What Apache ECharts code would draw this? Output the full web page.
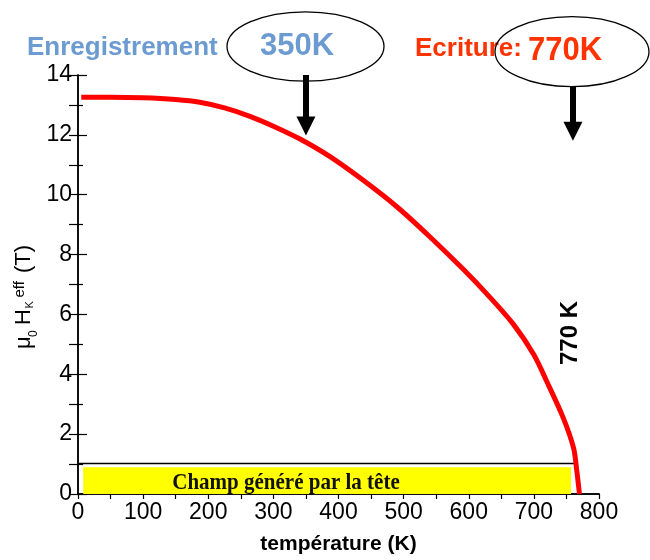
<!DOCTYPE html>
<html>
<head>
<meta charset="utf-8">
<script src="https://cdn.jsdelivr.net/npm/echarts@6/dist/echarts.min.js"></script>
<style>
html,body{margin:0;padding:0;background:#fff;}
#chart{width:650px;height:560px;}
</style>
</head>
<body>
<div id="chart"></div>
<script>
// ---- data ----
var temperatures = [5, 50, 100, 150, 187, 225, 264, 300, 341, 387, 438, 490, 541, 592, 628, 669, 700, 720, 745, 761, 766, 770];
var fieldValues  = [13.26, 13.26, 13.24, 13.18, 13.09, 12.90, 12.62, 12.29, 11.86, 11.27, 10.48, 9.59, 8.58, 7.50, 6.68, 5.66, 4.65, 3.75, 2.55, 1.53, 0.76, 0];
var arrowTemps   = [350, 760];
var arrowStart   = [14, 13.61];
var arrowEnd     = [12.30, 12.12];
var headFieldLine = [0, 766, 1.04];      // x from, x to, field (T)
var headBox       = [8, 757, 0, 0.89];   // x from, x to, y from, y to
var xTicks = [0, 800, 100];
var yTicks = [0, 14, 2];

var FONT = "'Liberation Sans', Arial, sans-serif";
var chart = echarts.init(document.getElementById('chart'));

var curve = temperatures.map(function (t, i) { return [t, fieldValues[i]]; });

var option = {
  animation: false,
  backgroundColor: '#fff',
  grid: { left: 78, right: 51, top: 75, bottom: 64, containLabel: false },
  xAxis: [
    {
      type: 'value', min: xTicks[0], max: xTicks[1], interval: xTicks[2], position: 'bottom',
      axisLine: { show: true, lineStyle: { color: '#000', width: 1.5 } },
      axisTick: { show: false },
      axisLabel: { color: '#000', fontSize: 23, fontFamily: FONT, margin: 7 },
      splitLine: { show: false },
      name: 'température (K)', nameLocation: 'middle', nameGap: 40,
      nameTextStyle: { color: '#000', fontSize: 21, fontWeight: 'bold', fontFamily: FONT }
    },
    {
      type: 'value', min: xTicks[0], max: xTicks[1], interval: 50, position: 'top',
      axisLine: { show: true, lineStyle: { color: '#000', width: 1.5 } },
      axisTick: { show: true, inside: true, length: 5, lineStyle: { color: '#000', width: 1.2 } },
      axisLabel: { show: false }, splitLine: { show: false }
    }
  ],
  yAxis: [
    {
      type: 'value', min: yTicks[0], max: yTicks[1], interval: yTicks[2], position: 'left',
      axisLine: { show: true, lineStyle: { color: '#000', width: 1.5 } },
      axisTick: { show: true, inside: true, length: 9, lineStyle: { color: '#000', width: 1.2 } },
      minorTick: { show: true, splitNumber: 2, length: 5, lineStyle: { color: '#000', width: 1.2 } },
      axisLabel: { color: '#000', fontSize: 23, fontFamily: FONT, margin: 6 },
      splitLine: { show: false }
    },
    {
      type: 'value', min: yTicks[0], max: yTicks[1], interval: 1, position: 'right',
      axisLine: { show: true, lineStyle: { color: '#000', width: 1.5 } },
      axisTick: { show: true, inside: true, length: 9, lineStyle: { color: '#000', width: 1.2 } },
      axisLabel: { show: false }, splitLine: { show: false }
    }
  ],
  series: [
    {
      type: 'line', data: [], silent: true,
      markArea: {
        silent: true,
        itemStyle: { color: '#ffff00' },
        data: [[{ coord: [headBox[0], headBox[2]] }, { coord: [headBox[1], headBox[3]] }]]
      },
      markLine: {
        silent: true, symbol: ['none', 'none'],
        label: { show: false },
        lineStyle: { color: '#000', width: 1.3, type: 'solid' },
        data: [[{ coord: [headFieldLine[0], headFieldLine[2]] }, { coord: [headFieldLine[1], headFieldLine[2]] }]]
      }
    },
    {
      type: 'line', data: curve, showSymbol: false, smooth: 0.3, silent: true,
      lineStyle: { color: '#ff0000', width: 5 }, z: 5
    },
    {
      type: 'line', data: [], silent: true, z: 6,
      markLine: {
        silent: true, symbol: ['none', 'triangle'], symbolSize: [19, 19],
        label: { show: false },
        lineStyle: { color: '#000', width: 6, type: 'solid' },
        itemStyle: { color: '#000' },
        data: arrowTemps.map(function (t, i) {
          return [{ coord: [t, arrowStart[i]] }, { coord: [t, arrowEnd[i]] }];
        })
      }
    }
  ],
  graphic: [
    { type: 'text', x: 27, y: 47.5, style: { text: 'Enregistrement', font: 'bold 26px ' + FONT, fill: '#6b9bd1', align: 'left', verticalAlign: 'middle' } },
    { type: 'text', x: 260, y: 46, style: { text: '350K', font: 'bold 31px ' + FONT, fill: '#6b9bd1', align: 'left', verticalAlign: 'middle' } },
    { type: 'text', x: 415, y: 49.2, style: { text: 'Ecriture:', font: 'bold 26px ' + FONT, fill: '#ff3300', align: 'left', verticalAlign: 'middle' } },
    { type: 'text', x: 528, y: 51, scaleY: 1.1, style: { text: '770K', font: 'bold 31px ' + FONT, fill: '#ff3300', align: 'left', verticalAlign: 'middle' } },
    { type: 'ellipse', shape: { cx: 305.5, cy: 46.5, rx: 78.5, ry: 34.7 }, style: { fill: 'none', stroke: '#000', lineWidth: 1.3 }, z: 100 },
    { type: 'ellipse', shape: { cx: 572, cy: 51.7, rx: 77, ry: 35 }, style: { fill: 'none', stroke: '#000', lineWidth: 1.3 }, z: 100 },
    // y axis title: mu_0 H_K^eff (T)
    { type: 'text', x: 24, y: 349, rotation: Math.PI / 2, style: { text: 'μ', font: '22px ' + FONT, fill: '#000', align: 'left', verticalAlign: 'middle' } },
    { type: 'text', x: 33.5, y: 337, rotation: Math.PI / 2, style: { text: '0', font: '12px ' + FONT, fill: '#000', align: 'left', verticalAlign: 'middle' } },
    { type: 'text', x: 24, y: 325, rotation: Math.PI / 2, style: { text: 'H', font: '22px ' + FONT, fill: '#000', align: 'left', verticalAlign: 'middle' } },
    { type: 'text', x: 30, y: 308.5, rotation: Math.PI / 2, style: { text: 'K', font: '11px ' + FONT, fill: '#000', align: 'left', verticalAlign: 'middle' } },
    { type: 'text', x: 19.5, y: 297.5, rotation: Math.PI / 2, style: { text: 'eff', font: '15px ' + FONT, fill: '#000', align: 'left', verticalAlign: 'middle' } },
    { type: 'text', x: 24, y: 273, rotation: Math.PI / 2, style: { text: '(T)', font: '22px ' + FONT, fill: '#000', align: 'left', verticalAlign: 'middle' } },
    // vertical annotation
    { type: 'text', x: 570, y: 333, rotation: Math.PI / 2, style: { text: '770 K', font: 'bold 24px ' + FONT, fill: '#000', align: 'center', verticalAlign: 'middle' }, z: 100 },
    // head field label
    { type: 'text', x: 286, y: 483, scaleY: 1.12, style: { text: 'Champ généré par la tête', font: "bold 21px 'Liberation Serif', 'Times New Roman', serif", fill: '#111', align: 'center', verticalAlign: 'middle' }, z: 100 }
  ]
};
chart.setOption(option);
</script>
</body>
</html>
